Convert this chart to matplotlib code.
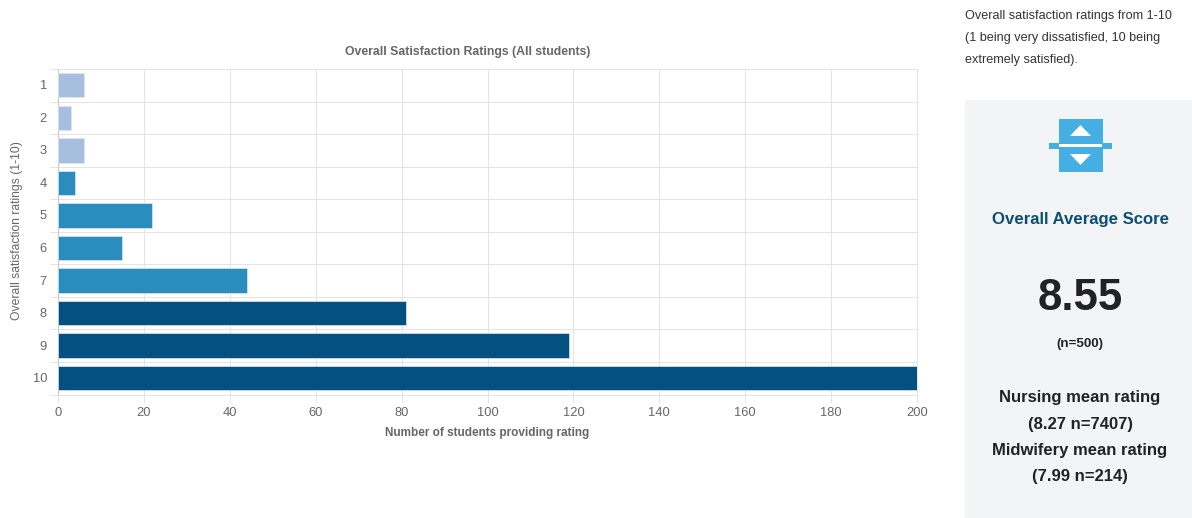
import matplotlib
matplotlib.use("Agg")
import matplotlib.pyplot as plt
from matplotlib.patches import Rectangle, Polygon

plt.rcParams['font.family'] = ['Liberation Sans', 'DejaVu Sans']

W, H = 1192, 518

ratings = ['1', '2', '3', '4', '5', '6', '7', '8', '9', '10']
students = [6, 3, 6, 4, 22, 15, 44, 81, 119, 200]
bar_colors = ['#a8bedf'] * 3 + ['#2b8cbe'] * 4 + ['#045080'] * 3
x_ticks = [0, 20, 40, 60, 80, 100, 120, 140, 160, 180, 200]

GREY = '#666666'
GRID = '#e4e4e4'

fig = plt.figure(figsize=(W / 100, H / 100), dpi=100)

# everything outside the bar chart is placed in pixel coordinates
bg = fig.add_axes([0, 0, 1, 1])
bg.set_xlim(0, W)
bg.set_ylim(H, 0)
bg.axis('off')

ax = fig.add_axes([58 / W, 1 - 394.5 / H, 859 / W, 325.5 / H])
y = list(range(len(ratings)))
ax.barh(y, students, height=0.75, color=bar_colors, edgecolor='#dce8f2',
        linewidth=0.5, zorder=3)
ax.set_xlim(0, 200)
ax.set_ylim(9.5, -0.5)
ax.set_xticks(x_ticks)
ax.set_yticks([i - 0.5 for i in range(len(ratings) + 1)], minor=False)
ax.set_yticklabels([])
ax.grid(True, color=GRID, linewidth=0.75, zorder=0)
for s in ax.spines.values():
    s.set_linewidth(0.75)
    s.set_color(GRID)
ax.spines['left'].set_color('#c8c8c8')
ax.tick_params(axis='x', length=5.8, width=0.75, color=GRID, labelcolor=GREY,
               labelsize=9.3, pad=3.4)
ax.tick_params(axis='y', length=5.8, width=0.75, color=GRID)
for i, r in enumerate(ratings):
    ax.annotate(r, (0, i), xytext=(-11, -1), textcoords='offset pixels',
                ha='right', va='center', color=GREY, fontsize=9.3,
                annotation_clip=False)

bg.text(468, 51.5, 'Overall Satisfaction Ratings (All students)', ha='center', va='center',
        fontsize=8.8, fontweight='bold', color=GREY)
bg.text(487.5, 433, 'Number of students providing rating', ha='center', va='center',
        fontsize=8.45, fontweight='bold', color=GREY)
bg.text(17, 231, 'Overall satisfaction ratings (1-10)', ha='center', va='center',
        rotation=90, fontsize=8.7, color=GREY)

# note above the score panel
note = ['Overall satisfaction ratings from 1-10',
        '(1 being very dissatisfied, 10 being',
        'extremely satisfied).']
for line, yp in zip(note, [16.5, 38.5, 60]):
    bg.text(965, yp, line, ha='left', va='center', fontsize=9.1, color='#333333')

# score panel
bg.add_patch(Rectangle((965, 100), 227, 418, facecolor='#f3f4f6', edgecolor='none'))

# icon
ICON = '#45aee3'
bg.add_patch(Rectangle((1058.5, 119), 44, 53, facecolor=ICON, edgecolor='none'))
bg.add_patch(Rectangle((1049, 142.5), 63, 6, facecolor=ICON, edgecolor='none'))
bg.add_patch(Rectangle((1059, 144), 43, 2.5, facecolor='white', edgecolor='none'))
bg.add_patch(Polygon([(1070, 136), (1091, 136), (1080.5, 125)], facecolor='white', edgecolor='none'))
bg.add_patch(Polygon([(1070, 154), (1091, 154), (1080.5, 165)], facecolor='white', edgecolor='none'))

bg.text(1080, 219.5, 'Overall Average Score', ha='center', va='center',
        fontsize=12.1, fontweight='bold', color='#0b4f71')
bg.text(1080, 298, '8.55', ha='center', va='center', fontsize=31.5,
        fontweight='bold', color='#222222')
bg.text(1080, 344, '(n=500)', ha='center', va='center', fontsize=9.6,
        fontweight='bold', color='#222222')

summary = ['Nursing mean rating', '(8.27 n=7407)', 'Midwifery mean rating', '(7.99 n=214)']
for line, yp in zip(summary, [397.5, 424, 450.5, 477]):
    bg.text(1080, yp, line, ha='center', va='center', fontsize=12,
            fontweight='bold', color='#222222')

fig.savefig('out.png', dpi=100, facecolor='white')
